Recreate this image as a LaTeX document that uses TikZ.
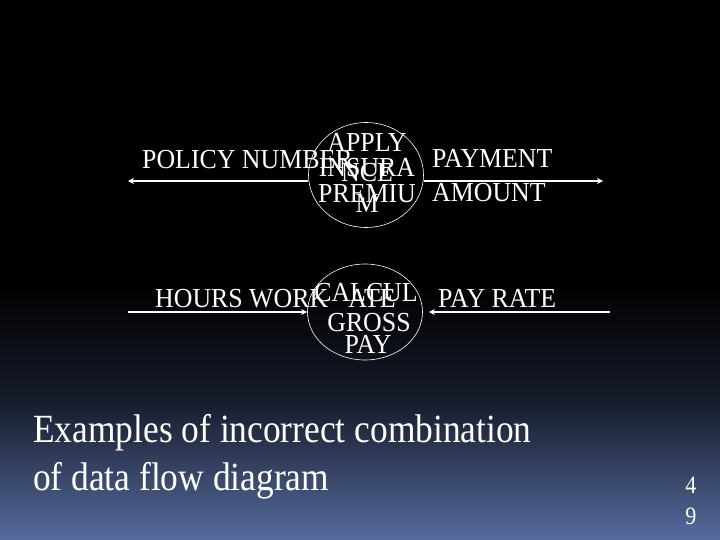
\documentclass[tikz,border=0pt]{standalone}
\usepackage{fontspec}
\setmainfont{Liberation Serif}
\newfontfamily\lblfont[FakeStretch=0.94]{Liberation Serif}
\newfontfamily\ttlfont[FakeStretch=0.885]{Liberation Serif}
\usetikzlibrary{arrows.meta,shapes.geometric}
\definecolor{bgbot}{RGB}{86,107,157}
\definecolor{bgmid}{RGB}{22,27,42}
\tikzset{
  lbl/.style={text=white, inner sep=0pt, anchor=base west, font=\lblfont\fontsize{27.5}{27.5}\selectfont},
  clbl/.style={text=white, inner sep=0pt, anchor=base, font=\lblfont\fontsize{27.5}{27.5}\selectfont},
  proc/.style={draw=white, line width=0.6pt, ellipse, minimum width=115pt, minimum height=105pt, inner sep=0pt},
  flow/.style={draw=white, line width=1.6pt, -{Stealth[length=6pt,width=6pt]}},
  title/.style={text=white, inner sep=0pt, anchor=base west, font=\ttlfont\fontsize{40}{40}\selectfont},
  pnum/.style={text=white, inner sep=0pt, anchor=base, font=\ttlfont\fontsize{25}{25}\selectfont},
}
\begin{document}
\begin{tikzpicture}[x=1pt,y=-1pt]
\useasboundingbox (0,0) rectangle (720,540);
\fill[black] (0,0) rectangle (720,282);
\shade[top color=black, bottom color=bgmid] (0,281) rectangle (720,400);
\shade[top color=bgmid, bottom color=bgbot] (0,399.5) rectangle (720,540);

% process 1
\node[proc] (p1) at (366,175) {};
\coordinate (l1) at (128,181);
\coordinate (r1) at (603,181);
\draw[flow] (p1.west |- l1) -- (l1);
\draw[flow] (p1.east |- r1) -- (r1);
\node[lbl] (t1) at (142,169) {POLICY NUMBER};
\node[lbl] (t2) at (432,168) {PAYMENT};
\node[lbl] (t3) at (432,202) {AMOUNT};
\node[clbl] (c1) at (367,152) {APPLY};
\node[clbl] (c2) at (367,177) {INSURA};
\node[clbl] (c3) at (367,182) {NCE};
\node[clbl] (c4) at (367,203) {PREMIU};
\node[clbl] (c5) at (367,213) {M};

% process 2
\node[proc, minimum height=96pt] (p2) at (365,312) {};
\coordinate (l2) at (128,312);
\coordinate (r2) at (610,312);
\draw[flow] (l2) -- (p2.west |- l2);
\draw[flow] (r2) -- ([xshift=6pt]p2.east |- r2);
\node[lbl] (t4) at (155,307) {HOURS WORK};
\node[lbl] (t5) at (438,307) {PAY RATE};
\node[clbl] (c6) at (366,301) {CALCUL};
\node[clbl] (c7) at (372,307) {ATE};
\node[clbl] (c8) at (369,331) {GROSS};
\node[clbl] (c9) at (368,353) {PAY};

% title
\node[title] (h1) at (33,442) {Examples of incorrect combination};
\node[title] (h2) at (33,490) {of data flow diagram};
\node[pnum] (n1) at (691,493) {4};
\node[pnum] (n2) at (691,524) {9};
\end{tikzpicture}
\end{document}
